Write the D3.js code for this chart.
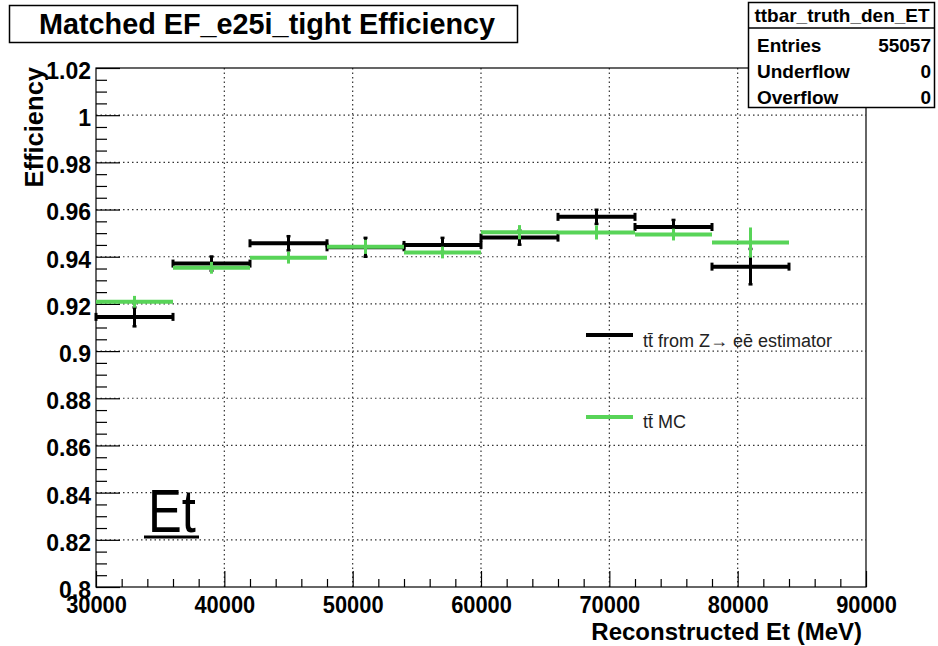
<!DOCTYPE html>
<html><head><meta charset="utf-8">
<script src="https://cdn.jsdelivr.net/npm/d3@7/dist/d3.min.js"></script>
<style>body{margin:0;background:#fff;} svg{display:block;font-family:"Liberation Sans",Arial,sans-serif;}</style>
</head><body>
<script>
const binCenters = [33000, 39000, 45000, 51000, 57000, 63000, 69000, 75000, 81000];
const binHalfWidth = [3000, 3000, 3000, 3000, 3000, 3000, 3000, 3000, 3000];
const zeeEff = [0.9145, 0.9371, 0.9457, 0.9440, 0.9450, 0.9481, 0.9569, 0.9526, 0.9358];
const zeeErr = [0.0040, 0.0030, 0.0030, 0.0040, 0.0030, 0.0030, 0.0030, 0.0030, 0.0075];
const mcEff = [0.9209, 0.9353, 0.9396, 0.9442, 0.9418, 0.9504, 0.9503, 0.9494, 0.9460];
const mcErr = [0.0025, 0.0025, 0.0025, 0.0030, 0.0025, 0.0030, 0.0030, 0.0025, 0.0064];
const xTicks = [30000, 40000, 50000, 60000, 70000, 80000, 90000];
const yTicks = [0.8, 0.82, 0.84, 0.86, 0.88, 0.9, 0.92, 0.94, 0.96, 0.98, 1, 1.02];
const statsRows = [["Entries", "55057"], ["Underflow", "0"], ["Overflow", "0"]];

const W = 938, H = 646;
const svg = d3.select("body").append("svg").attr("width", W).attr("height", H);
const x = d3.scaleLinear().domain([30000, 90000]).range([96, 866]);
const y = d3.scaleLinear().domain([0.8, 1.02]).range([587, 68]);
const green = "#58d458";
const FONT = "'Liberation Sans',Arial,sans-serif";

// grid
const grid = svg.append("g").attr("stroke", "#333").attr("stroke-width", 1.2).attr("stroke-dasharray", "1.5,3");
grid.selectAll("line.gx").data(xTicks.slice(1, -1)).join("line")
  .attr("x1", d => x(d)).attr("x2", d => x(d)).attr("y1", y(0.8)).attr("y2", y(1.02));
grid.selectAll("line.gy").data(yTicks.slice(1, -1)).join("line")
  .attr("y1", d => y(d)).attr("y2", d => y(d)).attr("x1", x(30000)).attr("x2", x(90000));

const ax = svg.append("g");
// frame
ax.append("rect").attr("x", x(30000)).attr("y", y(1.02)).attr("width", x(90000) - x(30000))
  .attr("height", y(0.8) - y(1.02)).attr("fill", "none").attr("stroke", "#000").attr("stroke-width", 1.2);
// y ticks (inside)
const yMinor = d3.range(0, 45).map(i => +(0.8 + i * 0.005).toFixed(3));
const isMajorY = d => Math.abs(Math.round(d * 1000) % 20) === 0;
ax.append("g").attr("transform", `translate(${x(30000)},0)`)
  .call(d3.axisRight(y).tickValues(yMinor).tickSize(0).tickFormat(""))
  .call(g => g.select(".domain").remove())
  .selectAll(".tick").append("line")
  .attr("x2", d => isMajorY(d) ? 24 : 11)
  .attr("stroke", "#000").attr("stroke-width", 1.2);
// y labels
ax.append("g").attr("transform", `translate(${x(30000) - 5},3)`)
  .call(d3.axisLeft(y).tickValues(yTicks).tickSize(0).tickPadding(0).tickFormat(d => String(+d.toFixed(2))))
  .call(g => g.select(".domain").remove())
  .selectAll("text").attr("font-size", 23).attr("font-weight", "bold")
  .attr("font-family", FONT).attr("fill", "#000");
// x ticks (inside, upward)
const xMinor = d3.range(30000, 90001, 2000);
ax.append("g").attr("transform", `translate(0,${y(0.8)})`)
  .call(d3.axisTop(x).tickValues(xMinor).tickSize(0).tickFormat(""))
  .call(g => g.select(".domain").remove())
  .selectAll(".tick").append("line")
  .attr("y2", d => d % 10000 === 0 ? -16 : -8)
  .attr("stroke", "#000").attr("stroke-width", 1.2);
ax.append("g").attr("transform", `translate(0,${y(0.8) + 26})`)
  .call(d3.axisBottom(x).tickValues(xTicks).tickSize(0).tickPadding(0).tickFormat(d3.format("d")))
  .call(g => g.select(".domain").remove())
  .selectAll("text").attr("dy", 0).attr("y", 0).attr("font-size", 23).attr("font-weight", "bold")
  .attr("font-family", FONT).attr("fill", "#000").attr("transform", "scale(0.95,1)");

// axis titles
svg.append("text").attr("x", 862).attr("y", 640).attr("text-anchor", "end")
  .attr("font-size", 24).attr("font-weight", "bold").text("Reconstructed Et (MeV)");
svg.append("text").attr("transform", `translate(43,67) rotate(-90)`).attr("text-anchor", "end")
  .attr("font-size", 25.5).attr("font-weight", "bold").text("Efficiency");

// data series
function drawSeries(eff, err, color, caps) {
  const g = svg.append("g");
  const idx = d3.range(eff.length);
  g.selectAll("line.v").data(idx).join("line")
    .attr("x1", i => x(binCenters[i])).attr("x2", i => x(binCenters[i]))
    .attr("y1", i => y(eff[i] - err[i])).attr("y2", i => y(eff[i] + err[i]))
    .attr("stroke", color).attr("stroke-width", 3);
  g.selectAll("line.h").data(idx).join("line")
    .attr("x1", i => x(binCenters[i] - binHalfWidth[i])).attr("x2", i => x(binCenters[i] + binHalfWidth[i]))
    .attr("y1", i => y(eff[i])).attr("y2", i => y(eff[i]))
    .attr("stroke", color).attr("stroke-width", 4);
  if (caps) {
    idx.forEach(i => {
      [binCenters[i] - binHalfWidth[i], binCenters[i] + binHalfWidth[i]].forEach(xe => {
        g.append("line").attr("x1", x(xe)).attr("x2", x(xe))
          .attr("y1", y(eff[i]) - 4).attr("y2", y(eff[i]) + 4)
          .attr("stroke", color).attr("stroke-width", 3);
      });
      [eff[i] - err[i], eff[i] + err[i]].forEach(ye => {
        g.append("line").attr("x1", x(binCenters[i]) - 2).attr("x2", x(binCenters[i]) + 2)
          .attr("y1", y(ye)).attr("y2", y(ye)).attr("stroke", color).attr("stroke-width", 2.5);
      });
    });
  }
}
drawSeries(zeeEff, zeeErr, "#000", true);
drawSeries(mcEff, mcErr, green, false);

// legend
const leg = svg.append("g");
leg.append("line").attr("x1", 586).attr("x2", 633).attr("y1", 335).attr("y2", 335).attr("stroke", "#000").attr("stroke-width", 4);
leg.append("text").attr("x", 643).attr("y", 347).attr("font-size", 18).attr("fill", "#222")
  .text("t\u0074\u0304 from Z\u2192 e\u0065\u0304 estimator");
leg.append("line").attr("x1", 586).attr("x2", 633).attr("y1", 417).attr("y2", 417).attr("stroke", green).attr("stroke-width", 4);
leg.append("text").attr("x", 643).attr("y", 428).attr("font-size", 18).attr("fill", "#222")
  .text("t\u0074\u0304 MC");

// Et label
svg.append("text").attr("transform", "translate(148,532) scale(0.83,1)").attr("font-size", 61).attr("fill", "#000").text("Et");
svg.append("line").attr("x1", 144).attr("x2", 199).attr("y1", 537).attr("y2", 537).attr("stroke", "#000").attr("stroke-width", 3);

// title box
svg.append("rect").attr("x", 9.5).attr("y", 5.5).attr("width", 508).attr("height", 37)
  .attr("fill", "#fff").attr("stroke", "#000").attr("stroke-width", 1.5);
svg.append("text").attr("x", 267).attr("y", 34).attr("text-anchor", "middle")
  .attr("font-size", 28.8).attr("font-weight", "bold").text("Matched EF_e25i_tight Efficiency");

// stats box
const sb = svg.append("g");
sb.append("rect").attr("x", 748.5).attr("y", 2.5).attr("width", 186).attr("height", 105)
  .attr("fill", "#fff").attr("stroke", "#000").attr("stroke-width", 1.5);
sb.append("line").attr("x1", 748.5).attr("x2", 934.5).attr("y1", 28).attr("y2", 28).attr("stroke", "#000").attr("stroke-width", 1.5);
sb.append("text").attr("x", 842).attr("y", 22).attr("text-anchor", "middle")
  .attr("font-size", 19).attr("font-weight", "bold").text("ttbar_truth_den_ET");
statsRows.forEach((r, i) => {
  sb.append("text").attr("x", 757).attr("y", 51.5 + i * 26.3).attr("font-size", 19).attr("font-weight", "bold").text(r[0]);
  sb.append("text").attr("x", 931).attr("y", 51.5 + i * 26.3).attr("text-anchor", "end").attr("font-size", 19).attr("font-weight", "bold").text(r[1]);
});
</script>
</body></html>
